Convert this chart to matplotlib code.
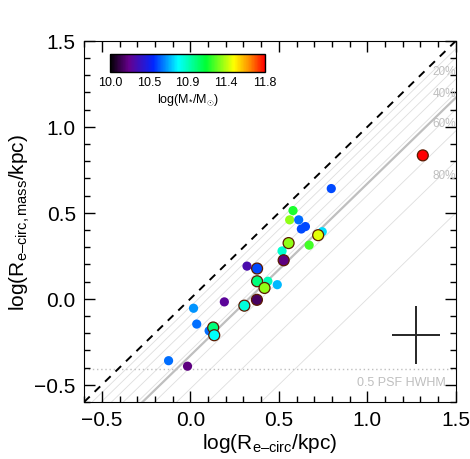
import matplotlib
matplotlib.use("Agg")
import matplotlib.pyplot as plt
import numpy as np
from matplotlib.colors import LinearSegmentedColormap, Normalize
from matplotlib.ticker import MultipleLocator
from matplotlib.cm import ScalarMappable

plt.rcParams["font.family"] = ["Liberation Sans", "DejaVu Sans"]
plt.rcParams["mathtext.fontset"] = "custom"
plt.rcParams["mathtext.rm"] = "Liberation Sans"
plt.rcParams["mathtext.it"] = "Liberation Sans:italic"
plt.rcParams["mathtext.bf"] = "Liberation Sans:bold"

# galaxies: light-weighted vs mass-weighted circularised sizes
log_re_circ = [1.313, 0.796, 0.580, 0.561, 0.612, 0.627, 0.650, 0.745, 0.722,
               0.671, 0.555, 0.518, 0.527, 0.320, 0.377, 0.377, 0.438, 0.419,
               0.491, 0.376, 0.305, 0.192, 0.018, 0.036, 0.106, 0.129, 0.135,
               -0.123, -0.016]
log_re_mass = [0.834, 0.641, 0.513, 0.459, 0.459, 0.406, 0.420, 0.390, 0.370,
               0.312, 0.324, 0.278, 0.224, 0.190, 0.176, 0.102, 0.102, 0.063,
               0.082, -0.006, -0.040, -0.018, -0.055, -0.147, -0.186, -0.167,
               -0.212, -0.360, -0.392]
log_mstar = [11.80, 10.55, 11.15, 11.30, 10.60, 10.55, 10.55, 10.75, 11.40,
             11.20, 11.30, 10.87, 10.20, 10.30, 10.55, 11.00, 10.90, 11.30,
             10.70, 10.15, 10.85, 10.25, 10.65, 10.60, 10.60, 11.00, 10.80,
             10.60, 10.20]
outlined = [1, 0, 0, 0, 0, 0, 0, 0, 1,
            0, 1, 0, 1, 0, 1, 1, 0, 1,
            0, 1, 1, 0, 0, 0, 0, 1, 1,
            0, 0]

fractions = [0.1, 0.2, 0.3, 0.4, 0.5, 0.6, 0.7, 0.8, 0.9]
labelled = [0.2, 0.4, 0.6, 0.8]
fit_offset = -0.33
psf_limit = -0.41
err_center = (1.275, -0.21)
err_x, err_y = 0.136, 0.17
cbar_ticks = [10.0, 10.45, 10.9, 11.35, 11.8]
cbar_ticklabels = ["10.0", "10.5", "10.9", "11.4", "11.8"]

cmap = LinearSegmentedColormap.from_list(
    "idl_rainbow",
    [(0.0, (0, 0, 0)), (0.12, (0.40, 0, 0.55)), (0.28, (0, 0.15, 1)),
     (0.44, (0, 1, 1)), (0.62, (0, 1, 0.2)), (0.80, (1, 1, 0)),
     (0.90, (1, 0.55, 0)), (1.0, (1, 0, 0))])
norm = Normalize(10.0, 11.8)

fig = plt.figure(figsize=(4.7, 4.6), dpi=100)
ax = fig.add_axes([0.179, 0.124, 0.791, 0.785])

xx = np.array([-0.6, 1.5])
for f in fractions:
    ax.plot(xx, xx + np.log10(1 - f), color="0.87", lw=0.6, zorder=1)
ax.plot(xx, xx + fit_offset, color="0.75", lw=1.6, zorder=1)
ax.plot(xx, xx, color="k", lw=1.4, ls=(0, (4, 3.5)), zorder=2)
for f in labelled:
    ax.text(1.5, 1.5 + np.log10(1 - f) - 0.08, f"{int(f * 100)}%",
            ha="right", va="center", fontsize=8.5, color="0.75")

ax.axhline(psf_limit, color="0.75", lw=1, ls=(0, (1, 2)), zorder=1)
ax.text(1.44, -0.486, "0.5 PSF HWHM", ha="right", va="center",
        fontsize=9, color="0.75")

ax.errorbar([err_center[0]], [err_center[1]], xerr=err_x, yerr=err_y,
            fmt="none", ecolor="0.15", elinewidth=1.4, capsize=0)

xs = np.array(log_re_circ)
ys = np.array(log_re_mass)
ms = np.array(log_mstar)
ol = np.array(outlined, dtype=bool)
ax.scatter(xs[~ol], ys[~ol], c=ms[~ol], cmap=cmap, norm=norm, s=44,
           edgecolors="none", zorder=3)
ax.scatter(xs[ol], ys[ol], c=ms[ol], cmap=cmap, norm=norm, s=62,
           edgecolors="#5a1a00", linewidths=0.9, zorder=4)

ax.set_xlim(-0.6, 1.5)
ax.set_ylim(-0.6, 1.5)
ax.xaxis.set_minor_locator(MultipleLocator(0.1))
ax.yaxis.set_minor_locator(MultipleLocator(0.1))
ax.tick_params(which="both", direction="in", top=True, right=True, width=1)
ax.tick_params(which="major", length=8, labelsize=15, pad=6)
ax.tick_params(which="minor", length=4)
ax.set_xticks([-0.5, 0.0, 0.5, 1.0, 1.5])
ax.set_xticklabels(["\u22120.5", "0.0", "0.5", "1.0", "1.5"])
ax.set_yticks([-0.5, 0.0, 0.5, 1.0, 1.5])
ax.set_yticklabels(["\u22120.5", "0.0", "0.5", "1.0", "1.5"])
ax.set_xlabel("log(R$_{\\rm e\u2013circ}$/kpc)", fontsize=15, labelpad=1)
ax.set_ylabel("log(R$_{\\rm e\u2013circ,mass}$/kpc)", fontsize=15, labelpad=2)

cax = fig.add_axes([0.234, 0.841, 0.33, 0.039])
cb = fig.colorbar(ScalarMappable(norm=norm, cmap=cmap), cax=cax,
                  orientation="horizontal")
cb.set_ticks(cbar_ticks)
cb.set_ticklabels(cbar_ticklabels)
cb.ax.tick_params(length=0, labelsize=9, pad=3)
cb.outline.set_linewidth(1)
cb.set_label(r"log(M$_{*}$/M$_{\odot}$)", fontsize=9, labelpad=2)

fig.savefig("out.png", dpi=100)
